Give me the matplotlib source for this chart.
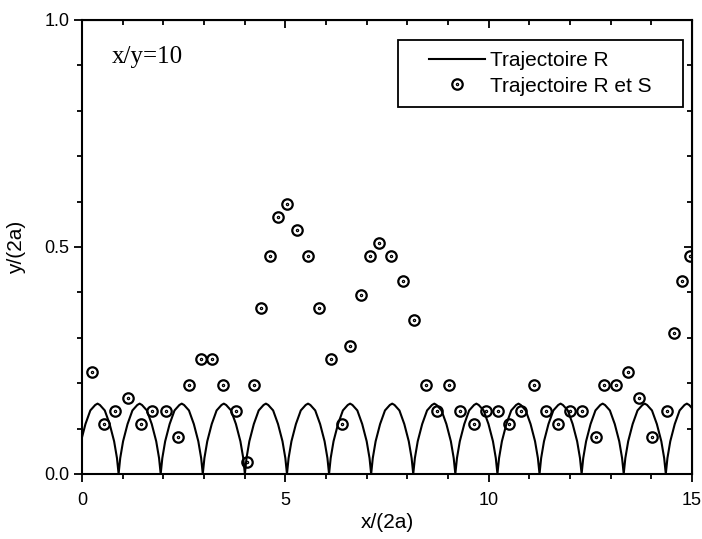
import numpy as np
import matplotlib
matplotlib.use("Agg")
import matplotlib.pyplot as plt
from matplotlib.path import Path
from matplotlib.patches import Rectangle
from matplotlib.ticker import MultipleLocator, FormatStrFormatter

plt.rcParams['font.family'] = ['Liberation Sans', 'DejaVu Sans']

arch_zeros = [-0.135, 0.90, 1.935, 2.97, 4.005, 5.04, 6.075, 7.11, 8.145,
              9.18, 10.215, 11.25, 12.285, 13.32, 14.355]
arch_dx = [0, 0.04, 0.11, 0.22, 0.34, 0.46, 0.5175, 0.575, 0.695, 0.815,
           0.925, 0.995, 1.035]
arch_h = [0, 0.035, 0.072, 0.11, 0.14, 0.152, 0.155, 0.152, 0.14, 0.11,
          0.072, 0.035, 0]

# Trajectoire R et S : points
rs_x = [0.25, 0.54, 0.81, 1.13, 1.45, 1.72, 2.07, 2.36, 2.63, 2.93, 3.20,
        3.47, 3.79, 4.06, 4.23, 4.40, 4.62, 4.82, 5.04, 5.29, 5.56, 5.83,
        6.12, 6.39, 6.59, 6.86, 7.08, 7.30, 7.59, 7.90, 8.17, 8.47, 8.74,
        9.03, 9.29, 9.65, 9.93, 10.22, 10.51, 10.80, 11.11, 11.40, 11.71,
        12.00, 12.29, 12.63, 12.84, 13.13, 13.43, 13.70, 14.01, 14.38,
        14.56, 14.75, 14.95]
rs_y = [0.225, 0.11, 0.139, 0.167, 0.11, 0.139, 0.139, 0.081, 0.196, 0.253,
        0.253, 0.196, 0.139, 0.026, 0.196, 0.366, 0.48, 0.566, 0.595, 0.537,
        0.48, 0.366, 0.253, 0.11, 0.282, 0.394, 0.48, 0.508, 0.48, 0.425,
        0.339, 0.196, 0.139, 0.196, 0.139, 0.11, 0.139, 0.139, 0.11, 0.139,
        0.196, 0.139, 0.11, 0.139, 0.139, 0.081, 0.196, 0.196, 0.225, 0.167,
        0.081, 0.139, 0.31, 0.425, 0.48]

line_x = np.concatenate([z + np.array(arch_dx) for z in arch_zeros])
line_y = np.tile(arch_h, len(arch_zeros))

fig = plt.figure(figsize=(7.02, 5.39), dpi=100)
ax = fig.add_axes([0.1168, 0.1206, 0.8690, 0.8423])

# circle with a dot in the centre
dot_circle = Path.make_compound_path(Path.unit_circle(),
                                     Path.circle((0, 0), 0.12))

l1, = ax.plot(line_x, line_y, color='black', lw=1.5, label='Trajectoire R')
l2, = ax.plot(rs_x, rs_y, ls='none', marker=dot_circle, ms=7.5, mfc='none',
              mec='black', mew=1.6, label='Trajectoire R et S')

ax.set_xlim(0, 15)
ax.set_ylim(0, 1.0)
ax.xaxis.set_major_locator(MultipleLocator(5))
ax.xaxis.set_minor_locator(MultipleLocator(1))
ax.yaxis.set_major_locator(MultipleLocator(0.5))
ax.yaxis.set_minor_locator(MultipleLocator(0.1))
ax.xaxis.set_major_formatter(FormatStrFormatter('%d'))
ax.yaxis.set_major_formatter(FormatStrFormatter('%.1f'))

ax.tick_params(which='both', direction='out', width=1.3, labelsize=13)
ax.tick_params(which='major', length=6)
ax.tick_params(which='minor', length=3.5)
ax.tick_params(axis='x', pad=7)
ax.tick_params(axis='y', pad=3)
for s in ax.spines.values():
    s.set_linewidth(1.5)

# mirrored ticks pointing in on top and right
top = ax.secondary_xaxis('top')
top.xaxis.set_major_locator(MultipleLocator(5))
top.xaxis.set_minor_locator(MultipleLocator(1))
top.tick_params(which='both', direction='in', width=1.3, labeltop=False)
top.tick_params(which='major', length=6)
top.tick_params(which='minor', length=3.5)
right = ax.secondary_yaxis('right')
right.yaxis.set_major_locator(MultipleLocator(0.5))
right.yaxis.set_minor_locator(MultipleLocator(0.1))
right.tick_params(which='both', direction='in', width=1.3, labelright=False)
right.tick_params(which='major', length=6)
right.tick_params(which='minor', length=3.5)

ax.set_xlabel('x/(2a)', fontsize=15, labelpad=3)
ax.set_ylabel('y/(2a)', fontsize=15, labelpad=13)

ax.text(0.74, 0.905, 'x/y=10', fontsize=18, family=['Liberation Serif'],
        ha='left', va='baseline')

# legend frame drawn separately
fx0, fy0, fx1, fy1 = 0.518, 0.808, 0.985, 0.956
ax.add_patch(Rectangle((fx0, fy0), fx1 - fx0, fy1 - fy0, transform=ax.transAxes,
                       fill=False, edgecolor='black', lw=1.3, zorder=5))
ax.legend(handles=[l1, l2], loc='center',
          bbox_to_anchor=((fx0 + fx1) / 2, (fy0 + fy1) / 2),
          frameon=False, fontsize=15, handlelength=2.7, handletextpad=0.25,
          borderpad=0, labelspacing=0.3)

fig.savefig('out.png', dpi=100)
